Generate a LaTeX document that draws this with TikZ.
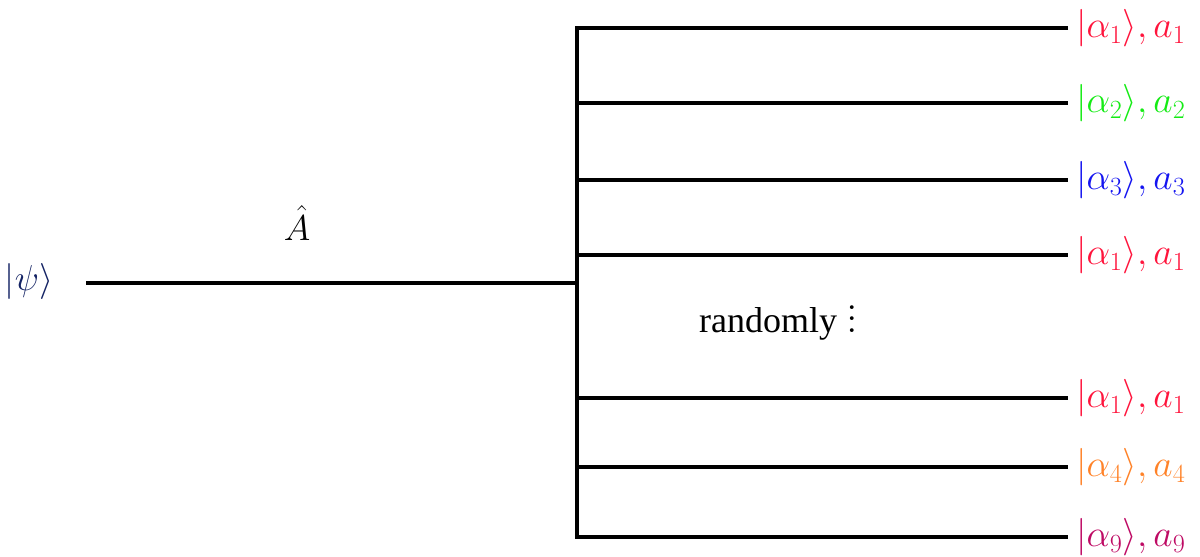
\documentclass[tikz,border=0pt]{standalone}
\usepackage{fix-cm}
\usepackage{fontspec}
\newfontfamily\timesf{Liberation Serif}
\newcommand{\myvdots}{\vbox{\fontsize{46}{50}\selectfont\baselineskip=11.5pt \lineskiplimit=0pt \kern4pt\hbox{.}\hbox{.}\hbox{.}}}
\definecolor{psicol}{RGB}{20,35,100}
\definecolor{cred}{RGB}{255,20,60}
\definecolor{cgreen}{RGB}{20,235,20}
\definecolor{cblue}{RGB}{20,20,240}
\definecolor{corange}{RGB}{255,130,40}
\definecolor{cpurple}{RGB}{190,10,100}
\tikzset{
  wire/.style={line width=3.3pt},
  lab/.style={anchor=west,inner xsep=8pt,inner ysep=0pt,font=\fontsize{37.5}{44}\selectfont},
  txt/.style={inner sep=0pt,font=\fontsize{36}{43}\selectfont}
}
\begin{document}
\begin{tikzpicture}[x=1pt,y=-1pt]
\useasboundingbox (0,0) rectangle (1200,557);
% input
\node[txt,text=psicol] (psi) at (29,281) {$|\psi\rangle$};
\coordinate (s) at (86,283);
\coordinate (j) at (577,283);
\node[txt,anchor=base] (A) at (297,240) {$\hat{A}$};
% branch points
\coordinate (b1) at (577,28);
\coordinate (b2) at (577,103);
\coordinate (b3) at (577,180);
\coordinate (b4) at (577,255);
\coordinate (b5) at (577,398);
\coordinate (b6) at (577,467);
\coordinate (b7) at (577,537);
% labels
\node[lab,text=cred]    (l1) at (1068,28)  {$|\alpha_1\rangle, a_1$};
\node[lab,text=cgreen]  (l2) at (1068,103) {$|\alpha_2\rangle, a_2$};
\node[lab,text=cblue]   (l3) at (1068,180) {$|\alpha_3\rangle, a_3$};
\node[lab,text=cred]    (l4) at (1068,255) {$|\alpha_1\rangle, a_1$};
\node[lab,text=cred]    (l5) at (1068,398) {$|\alpha_1\rangle, a_1$};
\node[lab,text=corange] (l6) at (1068,467) {$|\alpha_4\rangle, a_4$};
\node[lab,text=cpurple] (l7) at (1068,537) {$|\alpha_9\rangle, a_9$};
\node[txt,anchor=base west] (rnd) at (699,332) {{\timesf randomly}\hspace{9pt}\myvdots};
% wires
\draw[wire] (s) -- (j);
\draw[wire] (l1.west) -- (b1) -- (b7) -- (l7.west);
\draw[wire] (b2) -- (l2.west);
\draw[wire] (b3) -- (l3.west);
\draw[wire] (b4) -- (l4.west);
\draw[wire] (b5) -- (l5.west);
\draw[wire] (b6) -- (l6.west);
\end{tikzpicture}
\end{document}
